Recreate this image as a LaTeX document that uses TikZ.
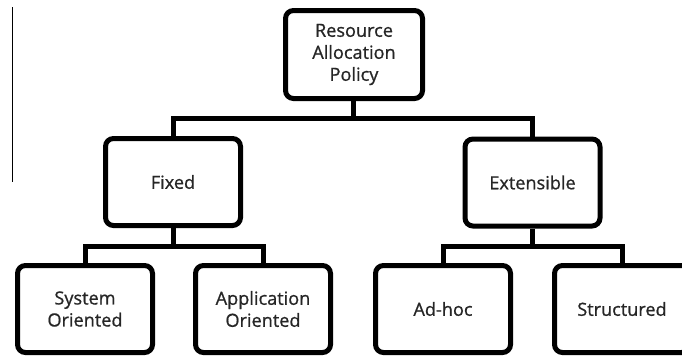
\documentclass[tikz,border=0pt]{standalone}
\usepackage{fontspec}
\setmainfont{Open Sans}
\newfontfamily\boxfont{Open Sans}[FakeBold=0.9]
\begin{document}
\begin{tikzpicture}[x=0.75pt,y=-0.75pt,
  box/.style={draw=black, line width=3.75pt, rounded corners=6pt,
    minimum width=101.25pt, minimum height=65.25pt, inner sep=0pt,
    align=center, font=\boxfont\fontsize{13.6pt}{16.5pt}\selectfont, text=black!85},
  conn/.style={draw=black, line width=3.75pt}]
\useasboundingbox (0,0) rectangle (682,358);
\clip (0,0) rectangle (682,358);

% margin rule on the left
\draw[line width=0.9pt] (12.5,7) -- (12.5,182);

% tree nodes
\node[box, minimum width=102.75pt, minimum height=66pt] (root) at (354,54.5) {Resource\\Allocation\\Policy};
\node[box] (fixed) at (173,182) {Fixed};
\node[box] (ext) at (532.5,182.5) {Extensible};
\node[box] (sys) at (85,309) {System\\Oriented};
\node[box] (app) at (263,309) {Application\\Oriented};
\node[box] (adhoc) at (443,309) {Ad-hoc};
\node[box] (struct) at (622,309) {Structured};

% junction points of the connectors
\coordinate (j1) at (353,118);
\coordinate (j2) at (173,246);
\coordinate (j3) at (532.5,246);

% connectors
\draw[conn] (root.south -| j1) -- (j1);
\draw[conn] (fixed.north) |- (j1) -| (ext.north);
\draw[conn] (fixed.south) -- (j2);
\draw[conn] (sys.north) |- (j2) -| (app.north);
\draw[conn] (ext.south) -- (j3);
\draw[conn] (adhoc.north) |- (j3) -| (struct.north);
\end{tikzpicture}
\end{document}
